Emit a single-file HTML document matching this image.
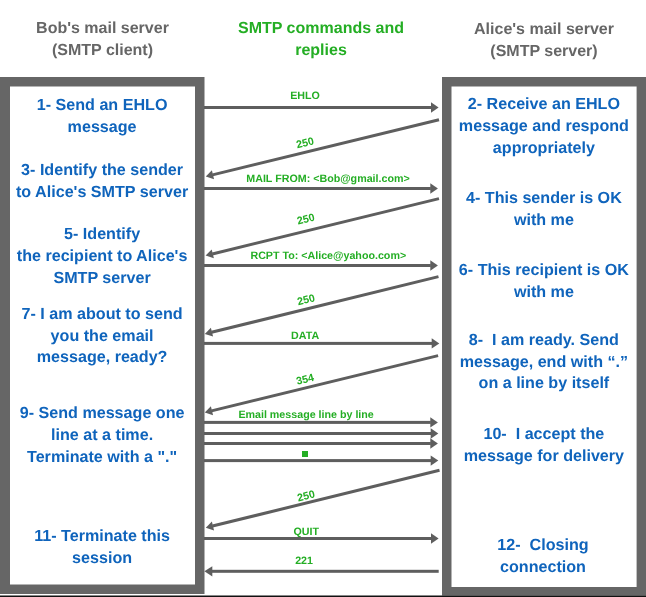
<!DOCTYPE html>
<html><head><meta charset="utf-8"><style>
html,body{margin:0;padding:0;background:#fff;width:646px;height:597px;overflow:hidden}
svg{display:block;will-change:transform;font-family:"Liberation Sans",sans-serif;font-weight:bold;text-rendering:geometricPrecision}
</style></head><body>
<svg width="646" height="597" viewBox="0 0 646 597">
<rect x="0" y="77" width="204.5" height="517" fill="#666666"/>
<rect x="10" y="86.5" width="185" height="498" fill="#fff"/>
<rect x="442" y="77" width="210" height="518.6" fill="#666666"/>
<rect x="451.5" y="86.5" width="185.1" height="500.5" fill="#fff"/>
<rect x="0" y="595.5" width="646" height="2" fill="#111"/>
<text x="102.5" y="33.0" font-size="16" fill="#666666" text-anchor="middle"  xml:space="preserve">Bob's mail server</text>
<text x="102.5" y="55.3" font-size="16" fill="#666666" text-anchor="middle"  xml:space="preserve">(SMTP client)</text>
<text x="321" y="32.9" font-size="16" fill="#24ae24" text-anchor="middle"  xml:space="preserve">SMTP commands and</text>
<text x="321" y="55.3" font-size="16" fill="#24ae24" text-anchor="middle"  xml:space="preserve">replies</text>
<text x="544" y="34" font-size="16" fill="#666666" text-anchor="middle"  xml:space="preserve">Alice's mail server</text>
<text x="544" y="55.8" font-size="16" fill="#666666" text-anchor="middle"  xml:space="preserve">(SMTP server)</text>
<text x="102.1" y="110" font-size="16.12" fill="#0f64bc" text-anchor="middle"  xml:space="preserve">1- Send an EHLO</text>
<text x="102.1" y="132" font-size="16.12" fill="#0f64bc" text-anchor="middle"  xml:space="preserve">message</text>
<text x="102.1" y="174.8" font-size="16.12" fill="#0f64bc" text-anchor="middle"  xml:space="preserve">3- Identify the sender</text>
<text x="102.1" y="197.4" font-size="16.12" fill="#0f64bc" text-anchor="middle"  xml:space="preserve">to Alice's SMTP server</text>
<text x="102.1" y="239.4" font-size="16.12" fill="#0f64bc" text-anchor="middle"  xml:space="preserve">5- Identify</text>
<text x="102.1" y="260.6" font-size="16.12" fill="#0f64bc" text-anchor="middle"  xml:space="preserve">the recipient to Alice's</text>
<text x="102.1" y="283" font-size="16.12" fill="#0f64bc" text-anchor="middle"  xml:space="preserve">SMTP server</text>
<text x="102.1" y="318.8" font-size="16.12" fill="#0f64bc" text-anchor="middle"  xml:space="preserve">7- I am about to send</text>
<text x="102.1" y="340.9" font-size="16.12" fill="#0f64bc" text-anchor="middle"  xml:space="preserve">you the email</text>
<text x="102.1" y="362.4" font-size="16.12" fill="#0f64bc" text-anchor="middle"  xml:space="preserve">message, ready?</text>
<text x="102.1" y="418" font-size="16.12" fill="#0f64bc" text-anchor="middle"  xml:space="preserve">9- Send message one</text>
<text x="102.1" y="440" font-size="16.12" fill="#0f64bc" text-anchor="middle"  xml:space="preserve">line at a time.</text>
<text x="102.1" y="461.6" font-size="16.12" fill="#0f64bc" text-anchor="middle"  xml:space="preserve">Terminate with a "."</text>
<text x="102.1" y="541.2" font-size="16.12" fill="#0f64bc" text-anchor="middle"  xml:space="preserve">11- Terminate this</text>
<text x="102.1" y="562.8" font-size="16.12" fill="#0f64bc" text-anchor="middle"  xml:space="preserve">session</text>
<text x="543.9" y="109.1" font-size="16.12" fill="#0f64bc" text-anchor="middle"  xml:space="preserve">2- Receive an EHLO</text>
<text x="543.9" y="131.2" font-size="16.12" fill="#0f64bc" text-anchor="middle"  xml:space="preserve">message and respond</text>
<text x="543.9" y="152.6" font-size="16.12" fill="#0f64bc" text-anchor="middle"  xml:space="preserve">appropriately</text>
<text x="543.9" y="203.2" font-size="16.12" fill="#0f64bc" text-anchor="middle"  xml:space="preserve">4- This sender is OK</text>
<text x="543.9" y="224.7" font-size="16.12" fill="#0f64bc" text-anchor="middle"  xml:space="preserve">with me</text>
<text x="543.9" y="275" font-size="16.12" fill="#0f64bc" text-anchor="middle"  xml:space="preserve">6- This recipient is OK</text>
<text x="543.9" y="296.5" font-size="16.12" fill="#0f64bc" text-anchor="middle"  xml:space="preserve">with me</text>
<text x="543.9" y="344.7" font-size="16.12" fill="#0f64bc" text-anchor="middle"  xml:space="preserve">8-  I am ready. Send</text>
<text x="543.9" y="366.8" font-size="16.12" fill="#0f64bc" text-anchor="middle"  xml:space="preserve">message, end with “.”</text>
<text x="543.9" y="388.2" font-size="16.12" fill="#0f64bc" text-anchor="middle"  xml:space="preserve">on a line by itself</text>
<text x="543.9" y="439.3" font-size="16.12" fill="#0f64bc" text-anchor="middle"  xml:space="preserve">10-  I accept the</text>
<text x="543.9" y="460.7" font-size="16.12" fill="#0f64bc" text-anchor="middle"  xml:space="preserve">message for delivery</text>
<text x="543.0" y="550.2" font-size="16.12" fill="#0f64bc" text-anchor="middle"  xml:space="preserve">12-  Closing</text>
<text x="543.0" y="572" font-size="16.12" fill="#0f64bc" text-anchor="middle"  xml:space="preserve">connection</text>
<rect x="204" y="106.0" width="227.5" height="3" fill="#5e5e5e"/>
<polygon points="438.6,107.5 431.0,102.3 431.0,112.7" fill="#5e5e5e"/>
<rect x="204" y="187.0" width="226.79999999999995" height="3" fill="#5e5e5e"/>
<polygon points="437.9,188.5 430.29999999999995,183.3 430.29999999999995,193.7" fill="#5e5e5e"/>
<rect x="204" y="264.0" width="226.79999999999995" height="3" fill="#5e5e5e"/>
<polygon points="437.9,265.5 430.29999999999995,260.3 430.29999999999995,270.7" fill="#5e5e5e"/>
<rect x="204" y="341.9" width="228.2" height="3" fill="#5e5e5e"/>
<polygon points="439.3,343.4 431.7,338.2 431.7,348.59999999999997" fill="#5e5e5e"/>
<rect x="204" y="420.9" width="226.79999999999995" height="3" fill="#5e5e5e"/>
<polygon points="437.9,422.4 430.29999999999995,417.2 430.29999999999995,427.59999999999997" fill="#5e5e5e"/>
<rect x="204" y="432.0" width="227.2" height="3" fill="#5e5e5e"/>
<polygon points="438.3,433.5 430.7,428.3 430.7,438.7" fill="#5e5e5e"/>
<rect x="204" y="442.0" width="226.79999999999995" height="3" fill="#5e5e5e"/>
<polygon points="437.9,443.5 430.29999999999995,438.3 430.29999999999995,448.7" fill="#5e5e5e"/>
<rect x="204" y="459.1" width="227.2" height="3" fill="#5e5e5e"/>
<polygon points="438.3,460.6 430.7,455.40000000000003 430.7,465.8" fill="#5e5e5e"/>
<rect x="204" y="537.0" width="227.5" height="3" fill="#5e5e5e"/>
<polygon points="438.6,538.5 431.0,533.3 431.0,543.7" fill="#5e5e5e"/>
<rect x="211.8" y="569.8" width="226.89999999999998" height="3" fill="#5e5e5e"/>
<polygon points="204.4,571.3 212.3,566.1999999999999 212.3,576.4" fill="#5e5e5e"/>
<line x1="439" y1="119.7" x2="212.50400652879236" y2="174.8671201936732" stroke="#5e5e5e" stroke-width="3"/>
<polygon points="205.8,176.5 211.90121756579134,170.2794578841648 214.0783906408937,179.2181332558879" fill="#5e5e5e"/>
<line x1="439" y1="198.6" x2="212.30300628846726" y2="253.96301902980878" stroke="#5e5e5e" stroke-width="3"/>
<polygon points="205.6,255.6 211.6974107350403,249.37572636139643 213.8800520286286,258.3130680793528" fill="#5e5e5e"/>
<line x1="438.5" y1="276.6" x2="211.5015050113756" y2="332.2568838803944" stroke="#5e5e5e" stroke-width="3"/>
<polygon points="204.8,333.9 210.89171057014406,327.670147487332 213.08253206295146,336.6054875024995" fill="#5e5e5e"/>
<line x1="438.1" y1="355.6" x2="211.50350647058337" y2="410.8650685033168" stroke="#5e5e5e" stroke-width="3"/>
<polygon points="204.8,412.5 210.89931347790932,406.2775908927335 213.07922214015358,415.21559952017793" fill="#5e5e5e"/>
<line x1="439.5" y1="470.3" x2="212.5008413136408" y2="526.0541793264742" stroke="#5e5e5e" stroke-width="3"/>
<polygon points="205.8,527.7 211.88919574242365,521.4676894164003 214.08362330712472,530.4021445012546" fill="#5e5e5e"/>
<text x="305" y="99.1" font-size="10.7" fill="#24ae24" text-anchor="middle"  xml:space="preserve">EHLO</text>
<text x="328" y="182" font-size="10.7" fill="#24ae24" text-anchor="middle"  xml:space="preserve">MAIL FROM: &lt;Bob@gmail.com&gt;</text>
<text x="328.3" y="258.7" font-size="10.7" fill="#24ae24" text-anchor="middle"  xml:space="preserve">RCPT To: &lt;Alice@yahoo.com&gt;</text>
<text x="305.1" y="338.9" font-size="10.7" fill="#24ae24" text-anchor="middle"  xml:space="preserve">DATA</text>
<text x="306.1" y="417.6" font-size="10.7" fill="#24ae24" text-anchor="middle"  xml:space="preserve">Email message line by line</text>
<text x="306.2" y="534.9" font-size="10.7" fill="#24ae24" text-anchor="middle"  xml:space="preserve">QUIT</text>
<text x="304.1" y="564" font-size="10.7" fill="#24ae24" text-anchor="middle"  xml:space="preserve">221</text>
<text x="305" y="146.3" font-size="10.7" fill="#24ae24" text-anchor="middle" transform="rotate(-13.69 305 142.5)" xml:space="preserve">250</text>
<text x="305.8" y="222.60000000000002" font-size="10.7" fill="#24ae24" text-anchor="middle" transform="rotate(-13.69 305.8 218.8)" xml:space="preserve">250</text>
<text x="306" y="303.2" font-size="10.7" fill="#24ae24" text-anchor="middle" transform="rotate(-13.69 306 299.4)" xml:space="preserve">250</text>
<text x="305" y="382.8" font-size="10.7" fill="#24ae24" text-anchor="middle" transform="rotate(-13.69 305 379)" xml:space="preserve">354</text>
<text x="306" y="499.40000000000003" font-size="10.7" fill="#24ae24" text-anchor="middle" transform="rotate(-13.69 306 495.6)" xml:space="preserve">250</text>
<rect x="302" y="451" width="6" height="6" fill="#24ae24"/>
</svg>
</body></html>
